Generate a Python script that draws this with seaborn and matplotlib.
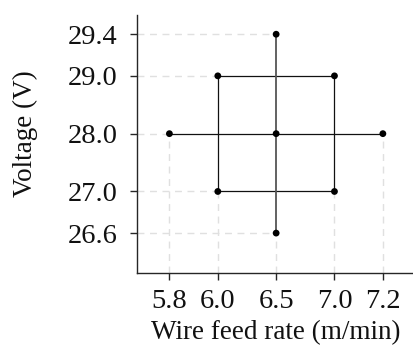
import matplotlib
matplotlib.use("Agg")
import matplotlib.pyplot as plt
import numpy as np
import pandas as pd
import seaborn as sns

# central composite design, real units
wire_feed = [6.0, 7.0, 7.0, 6.0, 5.8, 7.2, 6.5, 6.5, 6.5]
voltage = [27.0, 27.0, 29.0, 29.0, 28.0, 28.0, 26.6, 29.4, 28.0]
point_type = ["factorial"] * 4 + ["axial"] * 4 + ["center"]

x_levels = [5.8, 6.0, 6.5, 7.0, 7.2]
y_levels = [26.6, 27.0, 28.0, 29.0, 29.4]

# axis is drawn in coded units (-alpha, -1, 0, 1, alpha)
x_coded = [-1.83, -1.0, 0.0, 1.0, 1.83]
y_coded = [-1.72, -1.0, 0.0, 1.0, 1.72]


def piecewise(src, dst):
    src = np.asarray(src, float)
    dst = np.asarray(dst, float)

    def f(v):
        v = np.asarray(v, float)
        out = np.interp(v, src, dst)
        lo = v < src[0]
        hi = v > src[-1]
        out = np.where(lo, dst[0] + (v - src[0]) * (dst[1] - dst[0]) / (src[1] - src[0]), out)
        out = np.where(hi, dst[-1] + (v - src[-1]) * (dst[-1] - dst[-2]) / (src[-1] - src[-2]), out)
        return out
    return f


df = pd.DataFrame({"wire": wire_feed, "volt": voltage, "kind": point_type})

sns.set_style("ticks")
plt.rcParams["font.family"] = ["Liberation Serif", "DejaVu Serif"]

fig = plt.figure(figsize=(4.14, 3.54), dpi=100)
ax = fig.add_axes([0.331, 0.2297, 0.672, 0.7283])

ax.set_xscale("function", functions=(piecewise(x_levels, x_coded), piecewise(x_coded, x_levels)))
ax.set_yscale("function", functions=(piecewise(y_levels, y_coded), piecewise(y_coded, y_levels)))
ax.set_xlim(piecewise(x_coded, x_levels)([-2.385, 2.385]))
ax.set_ylim(piecewise(y_coded, y_levels)([-2.405, 2.055]))

# dashed guides from axes to the nearest design point
xmin, xmax = ax.get_xlim()
ymin, ymax = ax.get_ylim()
for yv in y_levels:
    reach = df.loc[df["volt"] == yv, "wire"].min()
    ax.plot([xmin, reach], [yv, yv], ls=(0, (5, 4)), color="#e0e0e0", lw=1.0, zorder=1)
for xv in x_levels:
    reach = df.loc[df["wire"] == xv, "volt"].min()
    ax.plot([xv, xv], [ymin, reach], ls=(0, (5, 4)), color="#e0e0e0", lw=1.0, zorder=1)

# factorial square
sq = df[df["kind"] == "factorial"]
sns.lineplot(x=list(sq["wire"]) + [sq["wire"].iloc[0]], y=list(sq["volt"]) + [sq["volt"].iloc[0]],
             sort=False, estimator=None, color="#111111", lw=0.9, ax=ax, zorder=2)
# axial cross
ax_pts = df[df["kind"] != "factorial"]
horiz = ax_pts[ax_pts["volt"] == 28.0].sort_values("wire")
vert = ax_pts[ax_pts["wire"] == 6.5].sort_values("volt")
sns.lineplot(x=horiz["wire"], y=horiz["volt"], sort=False, estimator=None,
             color="#111111", lw=0.9, ax=ax, zorder=2)
sns.lineplot(x=vert["wire"], y=vert["volt"], sort=False, estimator=None,
             color="#555555", lw=1.3, ax=ax, zorder=2)

sns.scatterplot(data=df, x="wire", y="volt", color="black", s=24, edgecolor="none",
                ax=ax, zorder=3, legend=False)

ax.set_xticks(x_levels)
ax.set_xticklabels([f"{v:.1f}" for v in x_levels])
ax.set_yticks(y_levels)
ax.set_yticklabels([f"{v:.1f}" for v in y_levels])
ax.minorticks_off()

ax.tick_params(axis="both", direction="out", length=5, width=1, color="#262626",
               labelsize=20.5, labelcolor="#111111")
ax.tick_params(axis="y", pad=9)
ax.tick_params(axis="x", pad=7)

ax.set_xlabel("Wire feed rate (m/min)", fontsize=19.5, color="#111111")
ax.set_ylabel("Voltage (V)", fontsize=19.5, color="#111111")
ax.xaxis.set_label_coords(0.5, -0.185)
ax.yaxis.set_label_coords(-0.355, 0.54)

for side in ["left", "bottom"]:
    ax.spines[side].set_color("#262626")
    ax.spines[side].set_linewidth(1.0)
sns.despine(ax=ax)

fig.savefig("out.png", dpi=100)
